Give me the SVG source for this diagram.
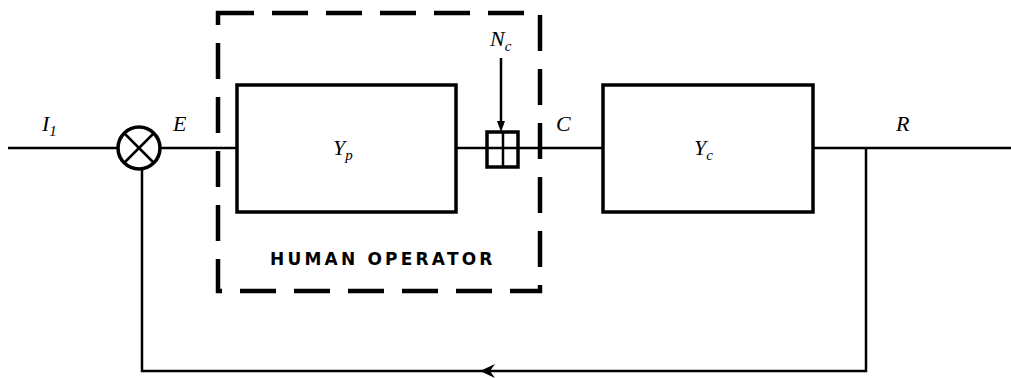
<svg xmlns="http://www.w3.org/2000/svg" width="1011" height="378" viewBox="0 0 1011 378">
<style>
.ln{stroke:#000;stroke-width:2.5;fill:none}
.box{stroke:#000;stroke-width:3.5;fill:none}
.dash{stroke:#000;stroke-width:4.5;fill:none;stroke-dasharray:36 18}
.lab{font-family:"Liberation Serif",serif;font-style:italic;font-size:22px;fill:#000}
.sub{font-size:15px}
.cap{font-family:"DejaVu Sans","Liberation Sans",sans-serif;font-weight:bold;font-size:17px;letter-spacing:3.2px;fill:#000}
</style>
<g id="connectors">
<line class="ln" x1="8" y1="148" x2="117" y2="148"/>
<line class="ln" x1="160" y1="148" x2="237" y2="148"/>
<line class="ln" x1="456" y1="148" x2="487" y2="148"/>
<line class="ln" x1="518" y1="148" x2="603" y2="148"/>
<line class="ln" x1="813" y1="148" x2="1011" y2="148"/>
<polyline class="ln" points="866,148 866,371 142,371 142,169"/>
<path d="M495,364 L480,371 L495,378 L490,371 Z" fill="#000"/>
<line class="ln" x1="501" y1="58" x2="501" y2="122" stroke-width="1.5"/>
<path d="M497,121 L501,132 L505,121 Z" fill="#000"/>
</g>
<g id="sum">
<circle cx="139" cy="148" r="21" class="box" stroke-width="3"/>
<line class="ln" x1="124" y1="133" x2="154" y2="163" stroke-width="3"/>
<line class="ln" x1="154" y1="133" x2="124" y2="163" stroke-width="3"/>
</g>
<g id="human-operator">
<rect class="dash" x="218" y="13" width="322" height="278"/>
<text class="cap" x="270" y="265">HUMAN OPERATOR</text>
</g>
<g id="Yp">
<rect class="box" x="237" y="85" width="219" height="127"/>
<text class="lab" x="333" y="155">Y<tspan class="sub" dy="5">p</tspan></text>
</g>
<g id="Nc">
<rect class="box" x="487" y="132" width="31" height="35" stroke-width="3"/>
<line class="ln" x1="503" y1="132" x2="503" y2="167" stroke-width="3"/>
<line class="ln" x1="487" y1="148" x2="518" y2="148" stroke-width="3"/>
<text class="lab" x="490" y="46">N<tspan class="sub" dy="5">c</tspan></text>
</g>
<g id="Yc">
<rect class="box" x="603" y="85" width="210" height="127"/>
<text class="lab" x="694" y="155">Y<tspan class="sub" dy="5">c</tspan></text>
</g>
<g id="labels">
<text class="lab" x="42" y="131">I<tspan class="sub" dy="5">1</tspan></text>
<text class="lab" x="173" y="131">E</text>
<text class="lab" x="556" y="131">C</text>
<text class="lab" x="896" y="131">R</text>
</g>
</svg>
